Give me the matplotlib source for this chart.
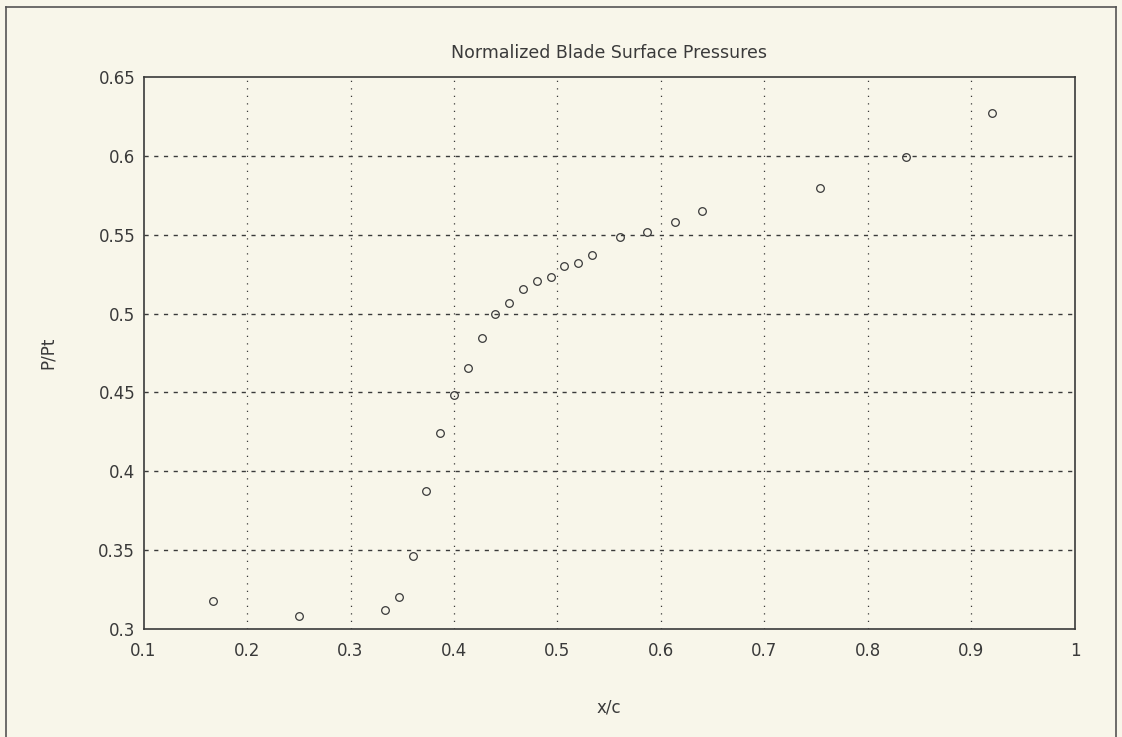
import numpy as np
import matplotlib
matplotlib.use("Agg")
import matplotlib.pyplot as plt
from matplotlib.lines import Line2D

# chord position and normalized surface pressure
x_c = [0.1667, 0.2500, 0.3333, 0.3467, 0.3600, 0.3733, 0.3867, 0.4000,
       0.4133, 0.4267, 0.4400, 0.4533, 0.4667, 0.4800, 0.4933, 0.5067,
       0.5200, 0.5333, 0.5600, 0.5867, 0.6133, 0.6400, 0.7533, 0.8367,
       0.9200]
p_pt = [0.318, 0.308, 0.312, 0.320, 0.3465, 0.3877, 0.4245, 0.4484,
        0.4655, 0.4843, 0.4997, 0.5069, 0.5156, 0.5207, 0.5234, 0.5304,
        0.5319, 0.5372, 0.5486, 0.5520, 0.5583, 0.5653, 0.5798, 0.5995,
        0.6274]

x_ticks = [0.1, 0.2, 0.3, 0.4, 0.5, 0.6, 0.7, 0.8, 0.9, 1.0]
x_labels = ["0.1", "0.2", "0.3", "0.4", "0.5", "0.6", "0.7", "0.8", "0.9", "1"]
y_ticks = [0.3, 0.35, 0.4, 0.45, 0.5, 0.55, 0.6, 0.65]
y_labels = ["0.3", "0.35", "0.4", "0.45", "0.5", "0.55", "0.6", "0.65"]

bg = "#f8f6ea"
ink = "#3a3a3a"

fig = plt.figure(figsize=(11.22, 7.37), dpi=100, facecolor=bg)
ax = fig.add_axes([0.1279, 0.1465, 0.8302, 0.749])
ax.set_facecolor(bg)

ax.plot(x_c, p_pt, linestyle="none", marker="o", markersize=5.5,
        fillstyle="none", markeredgewidth=0.9, color=ink, zorder=3)

ax.set_xlim(0.1, 1.0)
ax.set_ylim(0.3, 0.65)
ax.set_xticks(x_ticks)
ax.set_xticklabels(x_labels)
ax.set_yticks(y_ticks)
ax.set_yticklabels(y_labels)

# horizontal grid dashed, vertical grid sparse dots
for yv in y_ticks[1:-1]:
    ax.axhline(yv, color=ink, lw=1.0, linestyle=(0, (3, 4)), zorder=1)
for xv in x_ticks[1:-1]:
    ax.axvline(xv, color=ink, lw=0.9, linestyle=(0, (1, 5)), zorder=1)

for s in ax.spines.values():
    s.set_color(ink)
    s.set_linewidth(1.2)

ax.tick_params(axis="both", length=0, colors=ink, labelsize=12)
ax.tick_params(axis="x", pad=9)
ax.tick_params(axis="y", pad=6)

ax.set_title("Normalized Blade Surface Pressures", fontsize=12.5,
             color=ink, pad=14)
ax.set_xlabel("x/c", fontsize=12, color=ink, labelpad=28)
ax.set_ylabel("P/Pt", fontsize=12, color=ink, labelpad=30)

# page frame around the plot
W, H = 1122.0, 737.0
frame = dict(color="#555555", lw=1.2, transform=fig.transFigure)
fig.add_artist(Line2D([6 / W, 6 / W], [0, 1 - 7 / H], **frame))
fig.add_artist(Line2D([6 / W, 1116 / W], [1 - 7 / H, 1 - 7 / H], **frame))
fig.add_artist(Line2D([1116 / W, 1116 / W], [0, 1 - 7 / H], **frame))

fig.savefig("out.png", dpi=100, facecolor=bg)
